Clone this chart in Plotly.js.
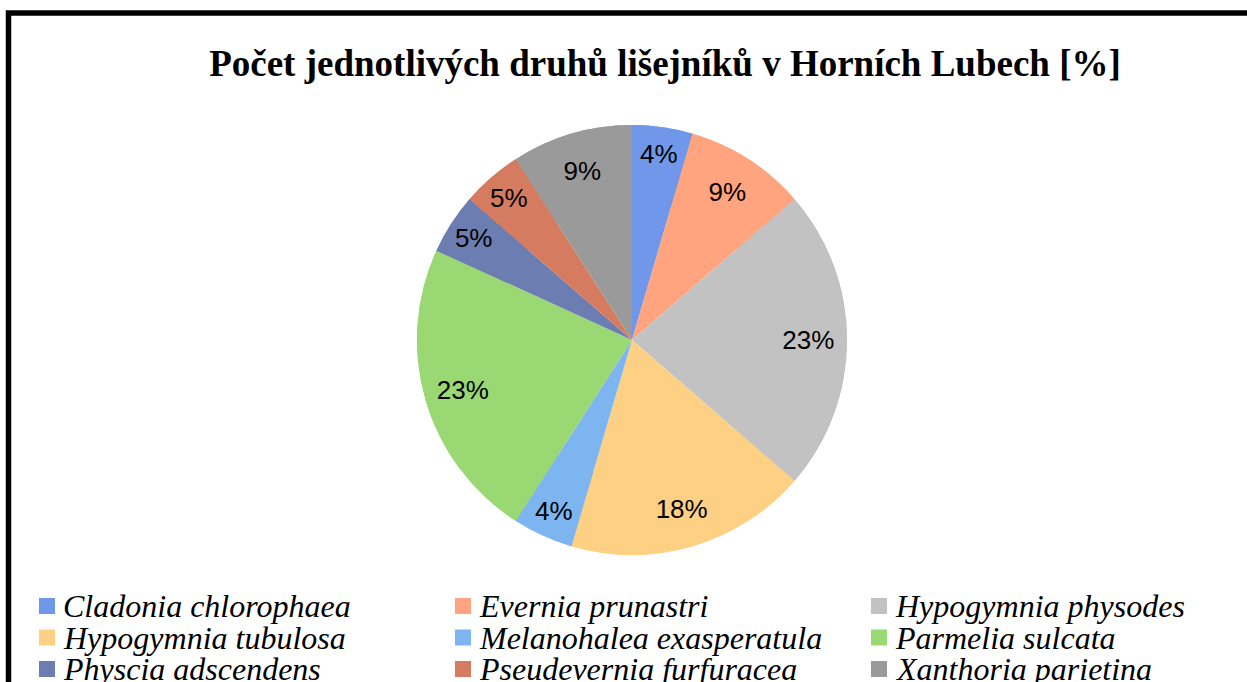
<!DOCTYPE html>
<html>
<head>
<meta charset="utf-8">
<script src="https://cdn.plot.ly/plotly-3.0.1.min.js"></script>
<style>
  html, body { margin: 0; padding: 0; background: #fff; overflow: hidden; }
  #chart { width: 1247px; height: 682px; }
</style>
</head>
<body>
<div id="chart"></div>
<script>
// Data
const species = [
  'Cladonia chlorophaea', 'Evernia prunastri', 'Hypogymnia physodes',
  'Hypogymnia tubulosa', 'Melanohalea exasperatula', 'Parmelia sulcata',
  'Physcia adscendens', 'Pseudevernia furfuracea', 'Xanthoria parietina'
];
const counts = [1, 2, 5, 4, 1, 5, 1, 1, 2];
const percentLabels = ['4%', '9%', '23%', '18%', '4%', '23%', '5%', '5%', '9%'];
const sliceColors = [
  '#7097ea', '#ffa47e', '#c2c2c2', '#fed083', '#7cb5ef',
  '#9ad874', '#6c7db2', '#d57c60', '#9a9a9a'
];

const W = 1247, H = 682;
const px = v => v / W;
const py = v => 1 - v / H;

// Pie geometry (centre and radius in pixels)
const cx = 632, cy = 340, r = 215;
const pieDomain = { x: [px(cx - r), px(cx + r)], y: [py(cy + r), py(cy - r)] };

const common = {
  type: 'pie',
  labels: species,
  values: counts,
  sort: false,
  direction: 'clockwise',
  rotation: 0,
  marker: { colors: sliceColors, line: { width: 0 } },
  domain: pieDomain,
  showlegend: false
};

// Full disc (no text)
const baseTrace = Object.assign({}, common, {
  textinfo: 'none',
  hoverinfo: 'skip'
});

// Same slices as a ring on top: carries the percentage labels placed outward
const labelTrace = Object.assign({}, common, {
  hole: 0.64,
  text: percentLabels,
  textinfo: 'text',
  textposition: 'inside',
  insidetextorientation: 'horizontal',
  textfont: { family: 'Liberation Sans, Arial, sans-serif', size: 26, color: '#000' },
  hoverinfo: 'label+text'
});

// Custom legend built from species and colours (3 columns)
const annotations = [];
const shapes = [];
const colStep = 416, rowStep = 31.5;
species.forEach((name, i) => {
  const col = i % 3, row = Math.floor(i / 3);
  const yc = 606 + row * rowStep;
  const xm = 39 + col * colStep;
  shapes.push({
    type: 'rect', xref: 'paper', yref: 'paper',
    x0: px(xm), x1: px(xm + 16), y0: py(yc + 8), y1: py(yc - 8),
    fillcolor: sliceColors[i], line: { width: 0 }
  });
  annotations.push({
    xref: 'paper', yref: 'paper', x: px(xm + 22), y: py(yc),
    xanchor: 'left', yanchor: 'middle', showarrow: false,
    text: name,
    font: { family: 'Liberation Serif, Times New Roman, serif', size: 32, style: 'italic', color: '#000' }
  });
});

// Outer frame
shapes.push({
  type: 'rect', xref: 'paper', yref: 'paper',
  x0: px(8.5), x1: 1.2, y0: -0.2, y1: py(13),
  line: { color: '#000', width: 5.5 }, fillcolor: 'rgba(0,0,0,0)'
});

const layout = {
  width: W, height: H,
  margin: { l: 0, r: 0, t: 0, b: 0 },
  paper_bgcolor: '#fff',
  title: {
    text: 'Počet jednotlivých druhů lišejníků v Horních Lubech [%]',
    font: { family: 'Liberation Serif, Times New Roman, serif', size: 37, weight: 'bold', color: '#000' },
    x: px(665), xanchor: 'center', xref: 'container',
    y: py(63), yanchor: 'middle', yref: 'container'
  },
  uniformtext: { minsize: 26, mode: 'show' },
  showlegend: false,
  annotations: annotations,
  shapes: shapes
};

Plotly.newPlot('chart', [baseTrace, labelTrace], layout, { displayModeBar: false, staticPlot: true });
</script>
</body>
</html>
